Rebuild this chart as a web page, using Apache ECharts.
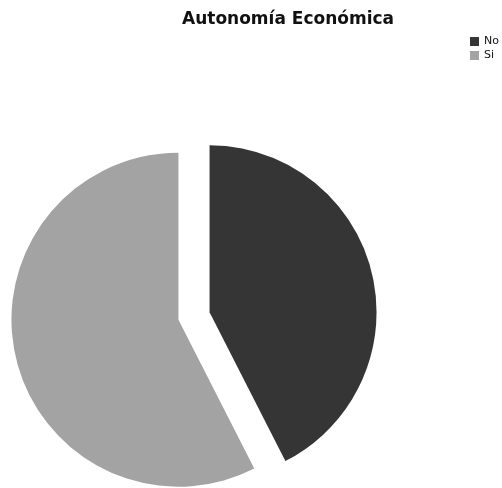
<!DOCTYPE html>
<html>
<head>
<meta charset="utf-8">
<script src="https://cdn.jsdelivr.net/npm/echarts@6/dist/echarts.min.js"></script>
<style>
  html, body { margin: 0; padding: 0; background: #fff; }
  #chart { width: 502px; height: 488px; }
</style>
</head>
<body>
<div id="chart"></div>
<script>
// Autonomía económica: share of respondents (%)
const categories = ['No', 'Si'];
const values = [42.5, 57.5];
const colors = ['#353535', '#a3a3a3'];

const chart = echarts.init(document.getElementById('chart'), null, { renderer: 'canvas' });

chart.setOption({
  animation: false,
  title: {
    text: 'Autonomía Económica',
    left: 283,
    textAlign: 'center',
    top: 6,
    padding: 5,
    textStyle: { fontFamily: 'DejaVu Sans', fontWeight: 'bold', fontSize: 17, color: '#111' }
  },
  legend: {
    orient: 'vertical',
    left: 465,
    top: 31,
    padding: 5,
    itemWidth: 9,
    itemHeight: 9,
    itemGap: 3,
    icon: 'rect',
    selectedMode: false,
    textStyle: { fontFamily: 'DejaVu Sans', fontSize: 11, lineHeight: 11, color: '#111' },
    data: categories
  },
  series: [{
    type: 'pie',
    center: [194, 316],
    radius: 167,
    startAngle: 90,
    clockwise: true,
    selectedMode: 'multiple',
    selectedOffset: 16,
    label: { show: false },
    labelLine: { show: false },
    emphasis: { disabled: true },
    data: categories.map((c, i) => ({
      name: c,
      value: values[i],
      selected: true,
      itemStyle: { color: colors[i] }
    }))
  }]
});
</script>
</body>
</html>
